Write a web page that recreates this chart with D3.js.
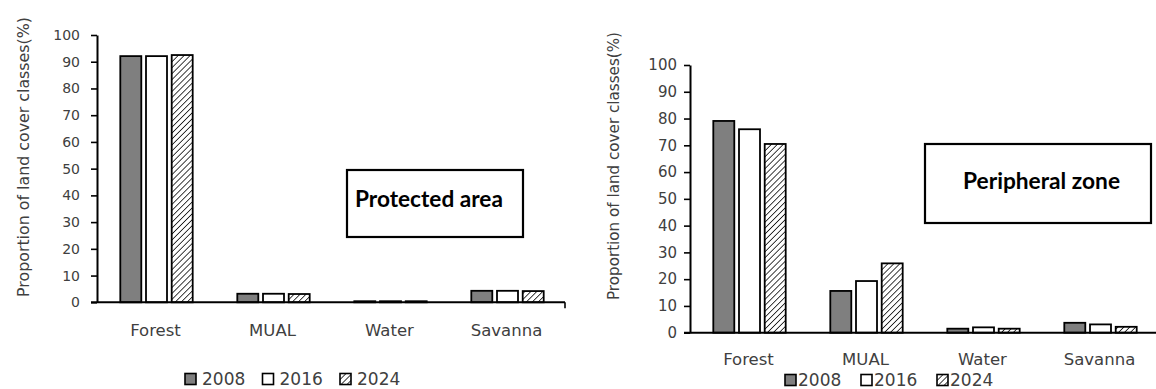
<!DOCTYPE html>
<html>
<head>
<meta charset="utf-8">
<script src="https://cdn.jsdelivr.net/npm/d3@7"></script>
<style>
  html, body { margin: 0; padding: 0; background: #ffffff; }
  svg { display: block; }
</style>
</head>
<body>
<svg id="chart" width="1156" height="389"></svg>
<script>
// Land cover classes and survey years
const categories = ["Forest", "MUAL", "Water", "Savanna"];
const years = ["2008", "2016", "2024"];
const yTicks = [0, 10, 20, 30, 40, 50, 60, 70, 80, 90, 100];

// Protected area (% of land cover)
const protected2008 = [92.1, 3.2, 0.4, 4.3];
const protected2016 = [92.1, 3.2, 0.4, 4.3];
const protected2024 = [92.5, 3.1, 0.4, 4.2];

// Peripheral zone (% of land cover)
const peripheral2008 = [79.1, 15.6, 1.5, 3.7];
const peripheral2016 = [76.0, 19.3, 2.0, 3.1];
const peripheral2024 = [70.5, 25.9, 1.5, 2.2];

const yTitle = "Proportion of land cover classes(%)";

const svg = d3.select("#chart");
const TEXT = "#404040";
const NUM_FONT = "'DejaVu Sans', Verdana, sans-serif";
const BOLD_FONT = "Lato, 'Open Sans', sans-serif";

// diagonal hatch for the 2024 bars
const defs = svg.append("defs");
const pat = defs.append("pattern")
  .attr("id", "hatch")
  .attr("patternUnits", "userSpaceOnUse")
  .attr("width", 4.2).attr("height", 4.2)
  .attr("patternTransform", "rotate(45)");
pat.append("rect").attr("width", 4.2).attr("height", 4.2).attr("fill", "#ffffff");
pat.append("line")
  .attr("x1", 0).attr("y1", 0).attr("x2", 0).attr("y2", 4.2)
  .attr("stroke", "#000").attr("stroke-width", 1.5);

const fills = d3.scaleOrdinal().domain(years).range(["#7f7f7f", "#ffffff", "url(#hatch)"]);

// shrink or grow a text's font size so it spans a given length
function fitText(sel, target) {
  const node = sel.node();
  const fs = parseFloat(sel.attr("font-size"));
  const len = node.getComputedTextLength();
  sel.attr("font-size", (fs * target / len).toFixed(2));
}

function drawPanel(p) {
  const g = svg.append("g");
  const x0 = d3.scaleBand().domain(categories).range([p.left, p.left + p.width]).padding(0);
  const groupW = 72.4;
  const x1 = d3.scaleBand().domain(years).range([0, groupW]).paddingInner(0.183).paddingOuter(0);
  const y = d3.scaleLinear().domain([0, 100]).range([p.bottom, p.top]);

  // bars
  const rows = categories.map((c, i) => ({ cat: c, vals: years.map((yr, k) => ({ yr, v: p.series[k][i] })) }));
  const grp = g.selectAll("g.cat").data(rows).join("g")
    .attr("transform", d => `translate(${x0(d.cat) + x0.bandwidth() / 2 - groupW / 2 + 1},0)`);
  grp.selectAll("rect").data(d => d.vals).join("rect")
    .attr("x", d => x1(d.yr))
    .attr("y", d => y(d.v))
    .attr("width", x1.bandwidth())
    .attr("height", d => y(0) - y(d.v))
    .attr("fill", d => fills(d.yr))
    .attr("stroke", "#000")
    .attr("stroke-width", 1.8);

  // y axis
  const ya = g.append("g")
    .attr("transform", `translate(${p.left},0)`)
    .call(d3.axisLeft(y).tickValues(yTicks).tickSize(6).tickSizeOuter(0).tickPadding(p.tickPad));
  ya.select(".domain").attr("stroke", "#000").attr("stroke-width", 2);
  ya.selectAll(".tick line").attr("stroke", "#000").attr("stroke-width", 1.6);
  ya.selectAll(".tick text")
    .attr("fill", TEXT).attr("font-family", NUM_FONT).attr("font-size", p.tickFont);

  // x axis baseline with category labels
  const xa = g.append("g")
    .attr("transform", `translate(0,${p.bottom})`)
    .call(d3.axisBottom(x0).tickSize(0).tickPadding(p.catPad));
  xa.select(".domain").remove();
  xa.selectAll(".tick text")
    .attr("fill", TEXT).attr("font-family", NUM_FONT).attr("font-size", 16.5);
  g.append("line")
    .attr("x1", p.left - 6).attr("x2", p.left + p.width)
    .attr("y1", p.bottom).attr("y2", p.bottom)
    .attr("stroke", "#000").attr("stroke-width", 2);
  g.append("line")
    .attr("x1", p.left + p.width).attr("x2", p.left + p.width)
    .attr("y1", p.bottom).attr("y2", p.bottom + 6)
    .attr("stroke", "#000").attr("stroke-width", 1.6);

  // y title
  const t = g.append("text")
    .attr("transform", `translate(${p.titleX},${p.titleY}) rotate(-90)`)
    .attr("text-anchor", "middle").attr("dominant-baseline", "central")
    .attr("fill", TEXT).attr("font-family", NUM_FONT).attr("font-size", 15)
    .text(yTitle);
  fitText(t, p.titleLen);

  // zone label box
  g.append("rect")
    .attr("x", p.box[0]).attr("y", p.box[1]).attr("width", p.box[2]).attr("height", p.box[3])
    .attr("fill", "#fff").attr("stroke", "#000").attr("stroke-width", 2.2);
  const bt = g.append("text")
    .attr("x", p.boxText[0]).attr("y", p.boxText[1])
    .attr("dominant-baseline", "central")
    .attr("font-family", BOLD_FONT).attr("font-weight", 700).attr("font-size", 19)
    .attr("fill", "#000")
    .text(p.label);
  fitText(bt, p.boxText[2]);

  // legend
  const lg = g.append("g").attr("transform", `translate(${p.legend[0]},${p.legend[1]})`);
  const items = lg.selectAll("g").data(years).join("g")
    .attr("transform", (d, i) => `translate(${i * p.legend[2]},0)`);
  items.append("rect")
    .attr("x", 0).attr("y", -5.5).attr("width", 11).attr("height", 11)
    .attr("fill", d => fills(d)).attr("stroke", "#000").attr("stroke-width", 1.6);
  items.append("text")
    .attr("x", p.legend[3]).attr("y", 0)
    .attr("dominant-baseline", "central")
    .attr("fill", TEXT).attr("font-family", NUM_FONT).attr("font-size", 17)
    .text(d => d);
}

drawPanel({
  left: 97, width: 468, top: 35, bottom: 302.3,
  series: [protected2008, protected2016, protected2024],
  tickFont: 14, tickPad: 11, catPad: 22,
  titleX: 23, titleY: 157, titleLen: 280,
  box: [347, 170, 176, 67], boxText: [355, 198, 148], label: "Protected area",
  legend: [185, 379, 77.5, 17]
});

drawPanel({
  left: 690, width: 468, top: 65, bottom: 332.7,
  series: [peripheral2008, peripheral2016, peripheral2024],
  tickFont: 15, tickPad: 7, catPad: 21,
  titleX: 614, titleY: 166, titleLen: 268,
  box: [925, 144, 226, 79], boxText: [963, 180, 157], label: "Peripheral zone",
  legend: [785, 380, 76, 13]
});
</script>
</body>
</html>
